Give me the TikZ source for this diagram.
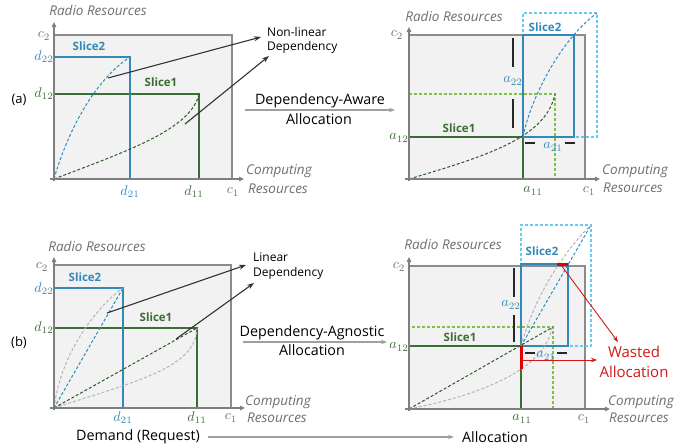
\documentclass[tikz,border=0pt]{standalone}
\usepackage[no-math]{fontspec}
\setmainfont{Open Sans}
\usetikzlibrary{arrows.meta}
\definecolor{boxfill}{HTML}{F2F2F2}
\definecolor{boxgrey}{HTML}{8C8C8C}
\definecolor{axgrey}{HTML}{7F7F7F}
\definecolor{lblgrey}{HTML}{6E6E6E}
\definecolor{sgreen}{HTML}{3B6E34}
\definecolor{dgreen}{HTML}{2C5A27}
\definecolor{lgreen}{HTML}{7CC243}
\definecolor{sblue}{HTML}{3289B8}
\definecolor{dblue}{HTML}{2F8CC0}
\definecolor{lblue}{HTML}{66CCEE}
\definecolor{cgrey}{HTML}{B4B4B4}
\definecolor{wred}{HTML}{E00000}
\definecolor{tred}{HTML}{D01818}
\definecolor{callk}{HTML}{333333}
\definecolor{bigarr}{HTML}{A0A0A0}
\begin{document}
\begin{tikzpicture}[x=1pt,y=-1pt,
  ax/.style={draw=axgrey, line width=1.3pt, -{Triangle[length=5pt,width=4.5pt]}},
  gbox/.style={fill=boxfill, draw=boxgrey, line width=1.2pt},
  sone/.style={draw=sgreen, line width=1.6pt},
  stwo/.style={draw=sblue, line width=1.6pt},
  dg/.style={draw=dgreen, dash pattern=on 3pt off 2pt, line width=1pt},
  db/.style={draw=dblue, dash pattern=on 3pt off 2pt, line width=1pt},
  gr/.style={draw=cgrey, dash pattern=on 3pt off 2pt, line width=1pt},
  lg/.style={draw=lgreen, dash pattern=on 3pt off 2pt, line width=1.2pt},
  lb/.style={draw=lblue, dash pattern=on 3pt off 2pt, line width=1.2pt},
  bar/.style={draw=black!85, line width=1.3pt},
  wseg/.style={draw=wred, line width=3pt},
  warr/.style={draw=tred, line width=0.9pt, -{Stealth[length=6pt,width=4.5pt]}},
  carr/.style={draw=callk, line width=1.1pt, -{Stealth[length=7pt,width=5pt]}},
  barr/.style={draw=bigarr, line width=1.1pt, -{Stealth[length=6pt,width=4.5pt]}},
  lbl/.style={font=\fontsize{13.5}{15}\selectfont\itshape, text=lblgrey, inner sep=0pt},
  call/.style={font=\fontsize{12}{14}\selectfont, inner sep=0pt, anchor=west},
  big/.style={font=\fontsize{14.3}{16}\selectfont, inner sep=0pt},
  slice/.style={font=\fontsize{11.5}{13}\selectfont\bfseries, inner sep=0pt},
  mth/.style={font=\fontsize{10}{12}\selectfont, inner sep=0pt, scale=1.4},
]
\useasboundingbox (0,0) rectangle (699,447);

%% ================= (a) left =================
\path[gbox] (54,35) rectangle (232,179);
\path[sone] (54,179) rectangle (199,94);
\path[stwo] (54,179) rectangle (130,57);
\path[db] (54,179) .. controls (68,130) and (95,80) .. (130,57);
\path[dg] (54,179) .. controls (130,150) and (191,129) .. (199,94);
\path[ax] (54,181) -- (54,22);
\path[ax] (50,179) -- (244,179);
\node[lbl] (ra1) at (98,10) {Radio Resources};
\node[lbl] (ca1) at (279,171) {Computing};
\node[lbl] (rb1) at (278,189) {Resources};
\node[mth, text=lblgrey] (c2a) at (44,36) {$c_2$};
\node[mth, text=sblue] (d22a) at (44,57) {$d_{22}$};
\node[mth, text=sgreen] (d12a) at (44,94) {$d_{12}$};
\node[mth, text=sblue] (d21a) at (130,192) {$d_{21}$};
\node[mth, text=sgreen] (d11a) at (194,192) {$d_{11}$};
\node[mth, text=lblgrey] (c1a) at (233,192) {$c_1$};
\node[slice, text=sblue] (s2a) at (89,46) {Slice2};
\node[slice, text=sgreen] (s1a) at (161,82) {Slice1};
\node[big, font=\fontsize{13}{15}\selectfont] (la) at (19,100) {(a)};
\node[call] (nl1) at (267,32) {Non-linear};
\node[call] (nl2) at (267,47) {Dependency};
\coordinate (pa1) at (108,78);
\coordinate (pa2) at (185,124);
\coordinate (ta1) at (261,37);
\coordinate (ta2) at (269,56);
\draw[carr] (pa1) -- (ta1);
\draw[carr] (pa2) -- (ta2);

%% arrow (a)
\node[big] (daw) at (320,101) {Dependency-Aware};
\node[big] (all1) at (319,119) {Allocation};
\coordinate (aa1) at (245,110);
\coordinate (aa2) at (395,110);
\draw[barr] (aa1) -- (aa2);

%% ================= (a) right =================
\path[gbox] (409,35) rectangle (585,179);
\path[lg] (409,179) rectangle (555,94);
\path[lb] (523,137) rectangle (597,13);
\path[sone] (409,179) rectangle (523,137);
\path[stwo] (523,137) rectangle (574,35);
\path[dg] (409,179) .. controls (490,155) and (546,137) .. (555,94);
\path[db] (523,137) .. controls (530,100) and (560,40) .. (597,13);
\path[ax] (409,181) -- (409,27);
\path[ax] (405,179) -- (600,179);
\node[lbl] (ra2) at (454,16) {Radio Resources};
\node[lbl] (ca2) at (635,171) {Computing};
\node[lbl] (rb2) at (633,188) {Resources};
\node[mth, text=lblgrey] (c2b) at (397,35) {$c_2$};
\node[mth, text=sgreen] (a12a) at (399,138) {$a_{12}$};
\node[mth, text=sgreen] (a11a) at (533,191) {$a_{11}$};
\node[mth, text=lblgrey] (c1b) at (589,191) {$c_1$};
\node[mth, text=sblue] (a22a) at (513,81) {$a_{22}$};
\node[mth, text=sblue] (a21a) at (553,147) {$a_{21}$};
\node[slice, text=sblue] (s2b) at (545,27) {Slice2};
\node[slice, text=sgreen] (s1b) at (459,128) {Slice1};
\path[bar] (513,38) -- (513,67);
\path[bar] (513,99) -- (513,128);
\path[bar] (525,143) -- (535,143);
\path[bar] (565,143) -- (575,143);

%% ================= (b) left =================
\path[gbox] (54,265) rectangle (231,408);
\path[sone] (54,408) rectangle (197,328);
\path[stwo] (54,408) rectangle (123,288);
\path[gr] (54,408) .. controls (62,345) and (105,300) .. (123,288);
\path[gr] (54,408) .. controls (140,380) and (195,368) .. (197,328);
\path[db] (54,408) -- (123,288);
\path[dg] (54,408) -- (197,328);
\path[ax] (54,410) -- (54,257);
\path[ax] (50,408) -- (245,408);
\node[lbl] (ra3) at (97,246) {Radio Resources};
\node[lbl] (ca3) at (278,402) {Computing};
\node[lbl] (rb3) at (277,418) {Resources};
\node[mth, text=lblgrey] (c2c) at (42,267) {$c_2$};
\node[mth, text=sblue] (d22b) at (44,289) {$d_{22}$};
\node[mth, text=sgreen] (d12b) at (44,328) {$d_{12}$};
\node[mth, text=sblue] (d21b) at (123,418) {$d_{21}$};
\node[mth, text=sgreen] (d11b) at (197,418) {$d_{11}$};
\node[mth, text=lblgrey] (c1c) at (231,418) {$c_1$};
\node[slice, text=sblue] (s2c) at (85,277) {Slice2};
\node[slice, text=sgreen] (s1c) at (156,317) {Slice1};
\node[big, font=\fontsize{13}{15}\selectfont] (lb) at (19,343) {(b)};
\node[call] (ld1) at (253,257) {Linear};
\node[call] (ld2) at (253,273) {Dependency};
\coordinate (pb1) at (107,313);
\coordinate (pb2) at (176,339);
\coordinate (tb1) at (246,265);
\coordinate (tb2) at (254,283);
\draw[carr] (pb1) -- (tb1);
\draw[carr] (pb2) -- (tb2);

%% arrow (b)
\node[big] (dag) at (312,333) {Dependency-Agnostic};
\node[big] (all2) at (312,350) {Allocation};
\coordinate (ab1) at (243,342);
\coordinate (ab2) at (387,342);
\draw[barr] (ab1) -- (ab2);

%% bottom
\node[big] (dem) at (138,437) {Demand (Request)};
\node[big] (all3) at (495,437) {Allocation};
\coordinate (ac1) at (208,437);
\coordinate (ac2) at (454,437);
\draw[barr] (ac1) -- (ac2);

%% ================= (b) right =================
\path[gbox] (409,266) rectangle (585,409);
\path[lg] (409,409) rectangle (553,327);
\path[lb] (521,346) rectangle (591,225);
\path[sone] (409,409) rectangle (521,346);
\path[stwo] (521,346) rectangle (568,264);
\path[gr] (409,409) .. controls (480,395) and (545,370) .. (552,327);
\path[gr] (521,346) .. controls (535,295) and (565,250) .. (591,225);
\path[db] (521,346) -- (591,225);
\path[dg] (409,409) -- (553,327);
\path[ax] (409,411) -- (409,257);
\path[ax] (405,409) -- (610,409);
\node[lbl] (ra4) at (453,244) {Radio Resources};
\node[lbl] (ca4) at (641,402) {Computing};
\node[lbl] (rb4) at (639,418) {Resources};
\node[mth, text=lblgrey] (c2d) at (399,267) {$c_2$};
\node[mth, text=sgreen] (a12b) at (399,347) {$a_{12}$};
\node[mth, text=sgreen] (a11b) at (522,419) {$a_{11}$};
\node[mth, text=lblgrey] (c1d) at (584,419) {$c_1$};
\node[mth, text=sblue] (a22b) at (511,305) {$a_{22}$};
\node[mth, text=sblue] (a21b) at (546,356) {$a_{21}$};
\node[slice, text=sblue] (s2d) at (542,251) {Slice2};
\node[slice, text=sgreen] (s1d) at (460,337) {Slice1};
\path[bar] (514,268) -- (514,297);
\path[bar] (514,315) -- (514,342);
\path[bar] (525,353) -- (535,353);
\path[bar] (557,353) -- (567,353);
\path[wseg] (521,346) -- (521,369);
\path[wseg] (557,264) -- (568,264);
\node[big, text=tred, font=\fontsize{15}{17}\selectfont] (wa1) at (634,352) {Wasted};
\node[big, text=tred, font=\fontsize{15}{17}\selectfont] (wa2) at (634,372) {Allocation};
\coordinate (wr1) at (561,265);
\coordinate (wr2) at (618,342);
\coordinate (wh1) at (523,360);
\coordinate (wh2) at (597,360);
\draw[warr] (wr1) -- (wr2);
\draw[warr] (wh1) -- (wh2);
\end{tikzpicture}
\end{document}
